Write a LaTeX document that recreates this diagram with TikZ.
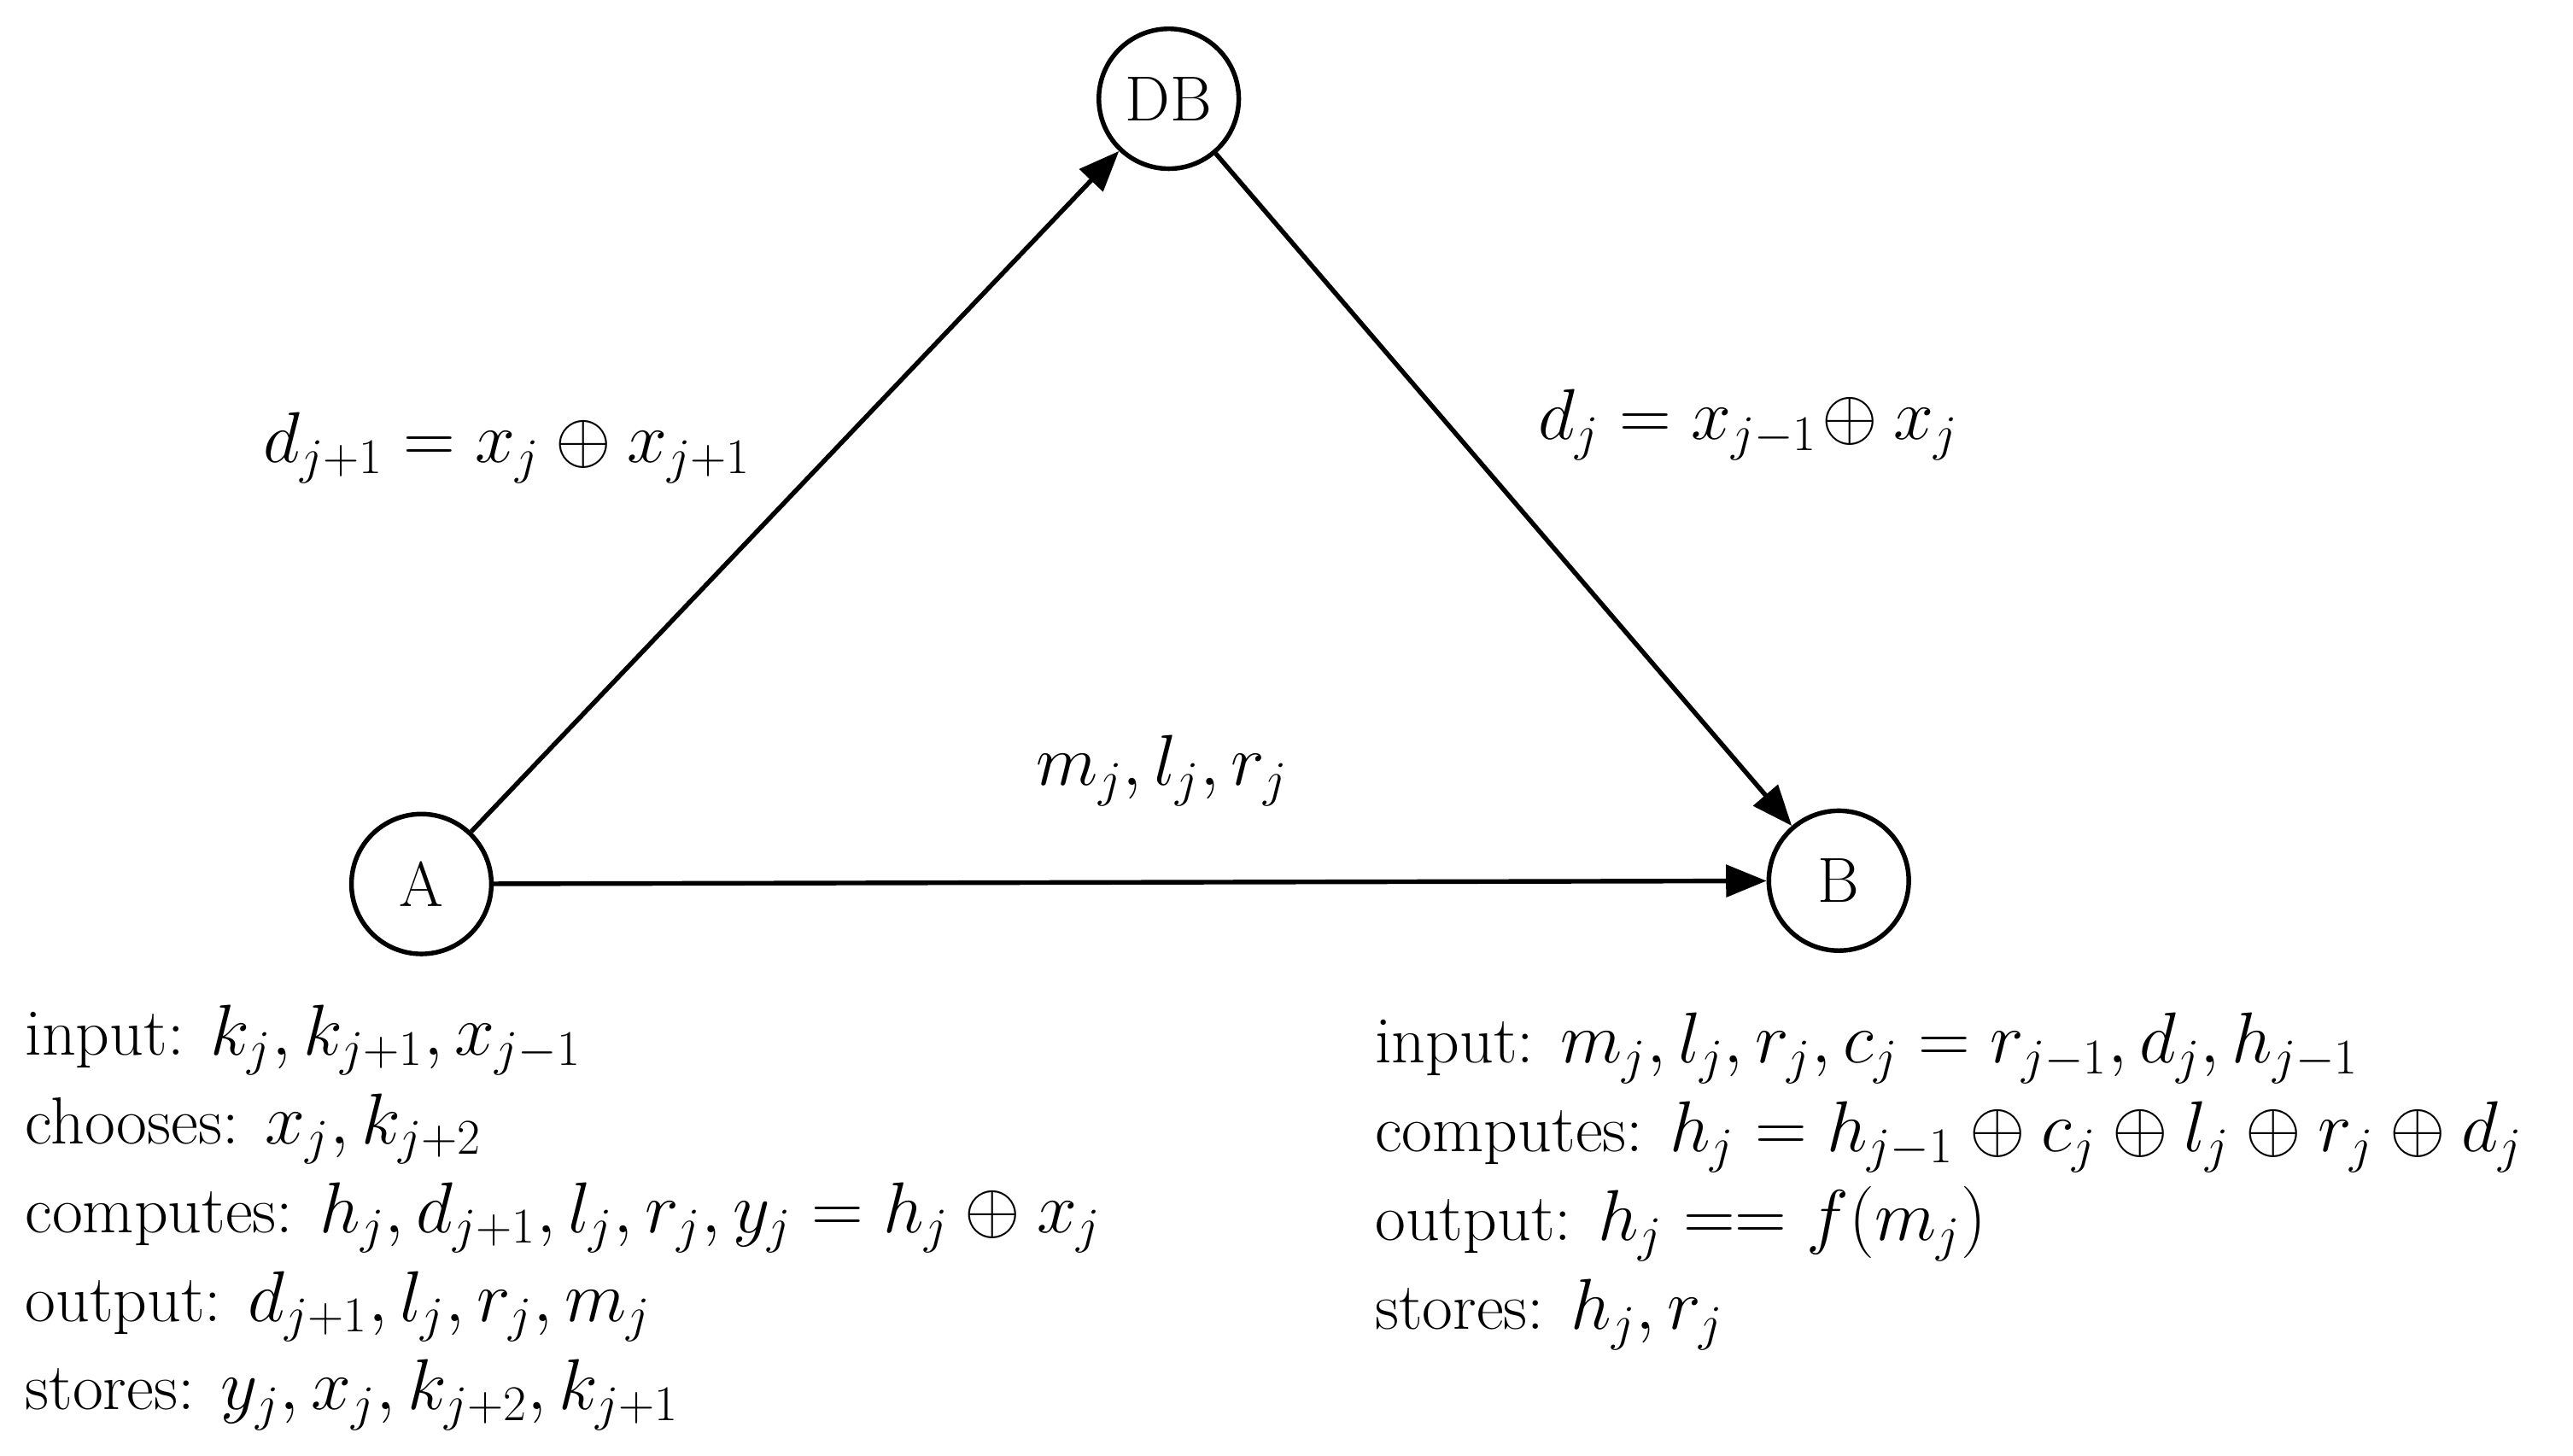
\documentclass[tikz,border=0pt]{standalone}
\usepackage{amsmath}
\usetikzlibrary{arrows.meta}
\begin{document}
\begin{tikzpicture}[x=0.02cm,y=-0.02cm,
  party/.style={circle,draw,line width=1.6pt,minimum size=1.7cm,inner sep=0pt,font=\fontsize{22}{26}\selectfont},
  conn/.style={line width=1.6pt,-{Triangle[length=14pt,width=11pt]}},
  lbl/.style={font=\fontsize{23}{28}\selectfont},
  blk/.style={font=\fontsize{23}{30.7}\selectfont,anchor=north west,align=left,inner sep=0pt}]
\useasboundingbox (0,0) rectangle (1563,884);
\node[party] (DB) at (710,60) {DB};
\node[party] (A) at (256,537) {A};
\node[party] (B) at (1117,535) {B};
\draw[conn] (A) -- (DB);
\draw[conn] (DB) -- (B);
\draw[conn] (A) -- (B);
\node[lbl] (l1) at (308,272) {$d_{j+1}=x_j\oplus x_{j+1}$};
\node[lbl] (l2) at (1062,258) {$d_j=x_{j-1}\!\oplus x_j$};
\node[lbl] (l3) at (706,468) {$m_j,l_j,r_j$};
\node[blk] (ta) at (15,610) {input: $k_j,k_{j+1},x_{j-1}$\\
chooses: $x_j,k_{j+2}$\\
computes: $h_j,d_{j+1},l_j,r_j,y_j=h_j\oplus x_j$\\
output: $d_{j+1},l_j,r_j,m_j$\\
stores: $y_j,x_j,k_{j+2},k_{j+1}$};
\node[blk] (tb) at (835,615) {input: $m_j,l_j,r_j,c_j=r_{j-1},d_j,h_{j-1}$\\
computes: $h_j=h_{j-1}\oplus c_j\oplus l_j\oplus r_j\oplus d_j$\\
output: $h_j\mathrel{{=}{=}}f(m_j)$\\
stores: $h_j,r_j$};
\end{tikzpicture}
\end{document}
